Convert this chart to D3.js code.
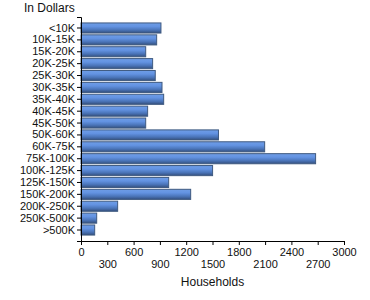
<!DOCTYPE html>
<html>
<head>
<meta charset="utf-8">
<script src="https://cdn.jsdelivr.net/npm/d3@7"></script>
<style>
  body { margin: 0; background: #fff; }
  .axis text { font-family: "Liberation Sans", Arial, sans-serif; font-size: 11px; fill: #111; }
  .axis path, .axis line { stroke: #000; }
</style>
</head>
<body>
<div id="chart"></div>
<script>
var categories = ["<10K", "10K-15K", "15K-20K", "20K-25K", "25K-30K", "30K-35K", "35K-40K",
    "40K-45K", "45K-50K", "50K-60K", "60K-75K", "75K-100K", "100K-125K", "125K-150K",
    "150K-200K", "200K-250K", "250K-500K", ">500K"];
var households = [912, 863, 738, 817, 847, 924, 943, 760, 738, 1568, 2095, 2676, 1501, 1000,
    1251, 418, 179, 156];
var xTicks = [0, 300, 600, 900, 1200, 1500, 1800, 2100, 2400, 2700, 3000];

var margin = { top: 17, right: 26, bottom: 59, left: 81 },
    width = 370 - margin.left - margin.right,
    height = 300 - margin.top - margin.bottom;

var svg = d3.select("#chart")
    .append("svg")
    .attr("width", 370)
    .attr("height", 300);

var defs = svg.append("defs");
var grad = defs.append("linearGradient")
    .attr("id", "barGrad")
    .attr("x1", 0).attr("y1", 0).attr("x2", 0).attr("y2", 1);
grad.append("stop").attr("offset", "0%").attr("stop-color", "#6f9de6");
grad.append("stop").attr("offset", "35%").attr("stop-color", "#6393e2");
grad.append("stop").attr("offset", "70%").attr("stop-color", "#4a74b8");
grad.append("stop").attr("offset", "100%").attr("stop-color", "#34507e");

var g = svg.append("g")
    .attr("transform", "translate(" + margin.left + "," + margin.top + ")");

var x = d3.scaleLinear()
    .domain([0, 3000])
    .range([0, width]);

var y = d3.scaleBand()
    .domain(categories)
    .range([0, height])
    .paddingInner(0.15)
    .paddingOuter(0.5);

g.selectAll(".bar")
    .data(households)
    .enter()
    .append("rect")
    .attr("class", "bar")
    .attr("x", x(0))
    .attr("y", function (d, i) { return y(categories[i]); })
    .attr("width", function (d) { return x(d); })
    .attr("height", y.bandwidth())
    .attr("fill", "url(#barGrad)")
    .attr("stroke", "#3f5a80")
    .attr("stroke-width", 1);

var yAxis = g.append("g")
    .attr("class", "axis")
    .call(d3.axisLeft(y).tickSize(4).tickSizeOuter(4).tickPadding(2));

var xAxis = g.append("g")
    .attr("class", "axis")
    .attr("transform", "translate(0," + height + ")")
    .call(d3.axisBottom(x).tickValues(xTicks).tickSize(4).tickSizeOuter(4).tickFormat(d3.format("d")));

// stagger the x labels onto two rows
xAxis.selectAll(".tick text")
    .attr("y", function (d, i) { return i % 2 === 0 ? 7 : 19; });

g.append("text")
    .attr("x", width / 2)
    .attr("y", height + 45)
    .attr("text-anchor", "middle")
    .style("font-family", "'Liberation Sans', Arial, sans-serif")
    .style("font-size", "12px")
    .attr("fill", "#111")
    .text("Households");

svg.append("text")
    .attr("x", 24)
    .attr("y", 12)
    .style("font-family", "'Liberation Sans', Arial, sans-serif")
    .style("font-size", "12px")
    .attr("fill", "#111")
    .text("In Dollars");
</script>
</body>
</html>
